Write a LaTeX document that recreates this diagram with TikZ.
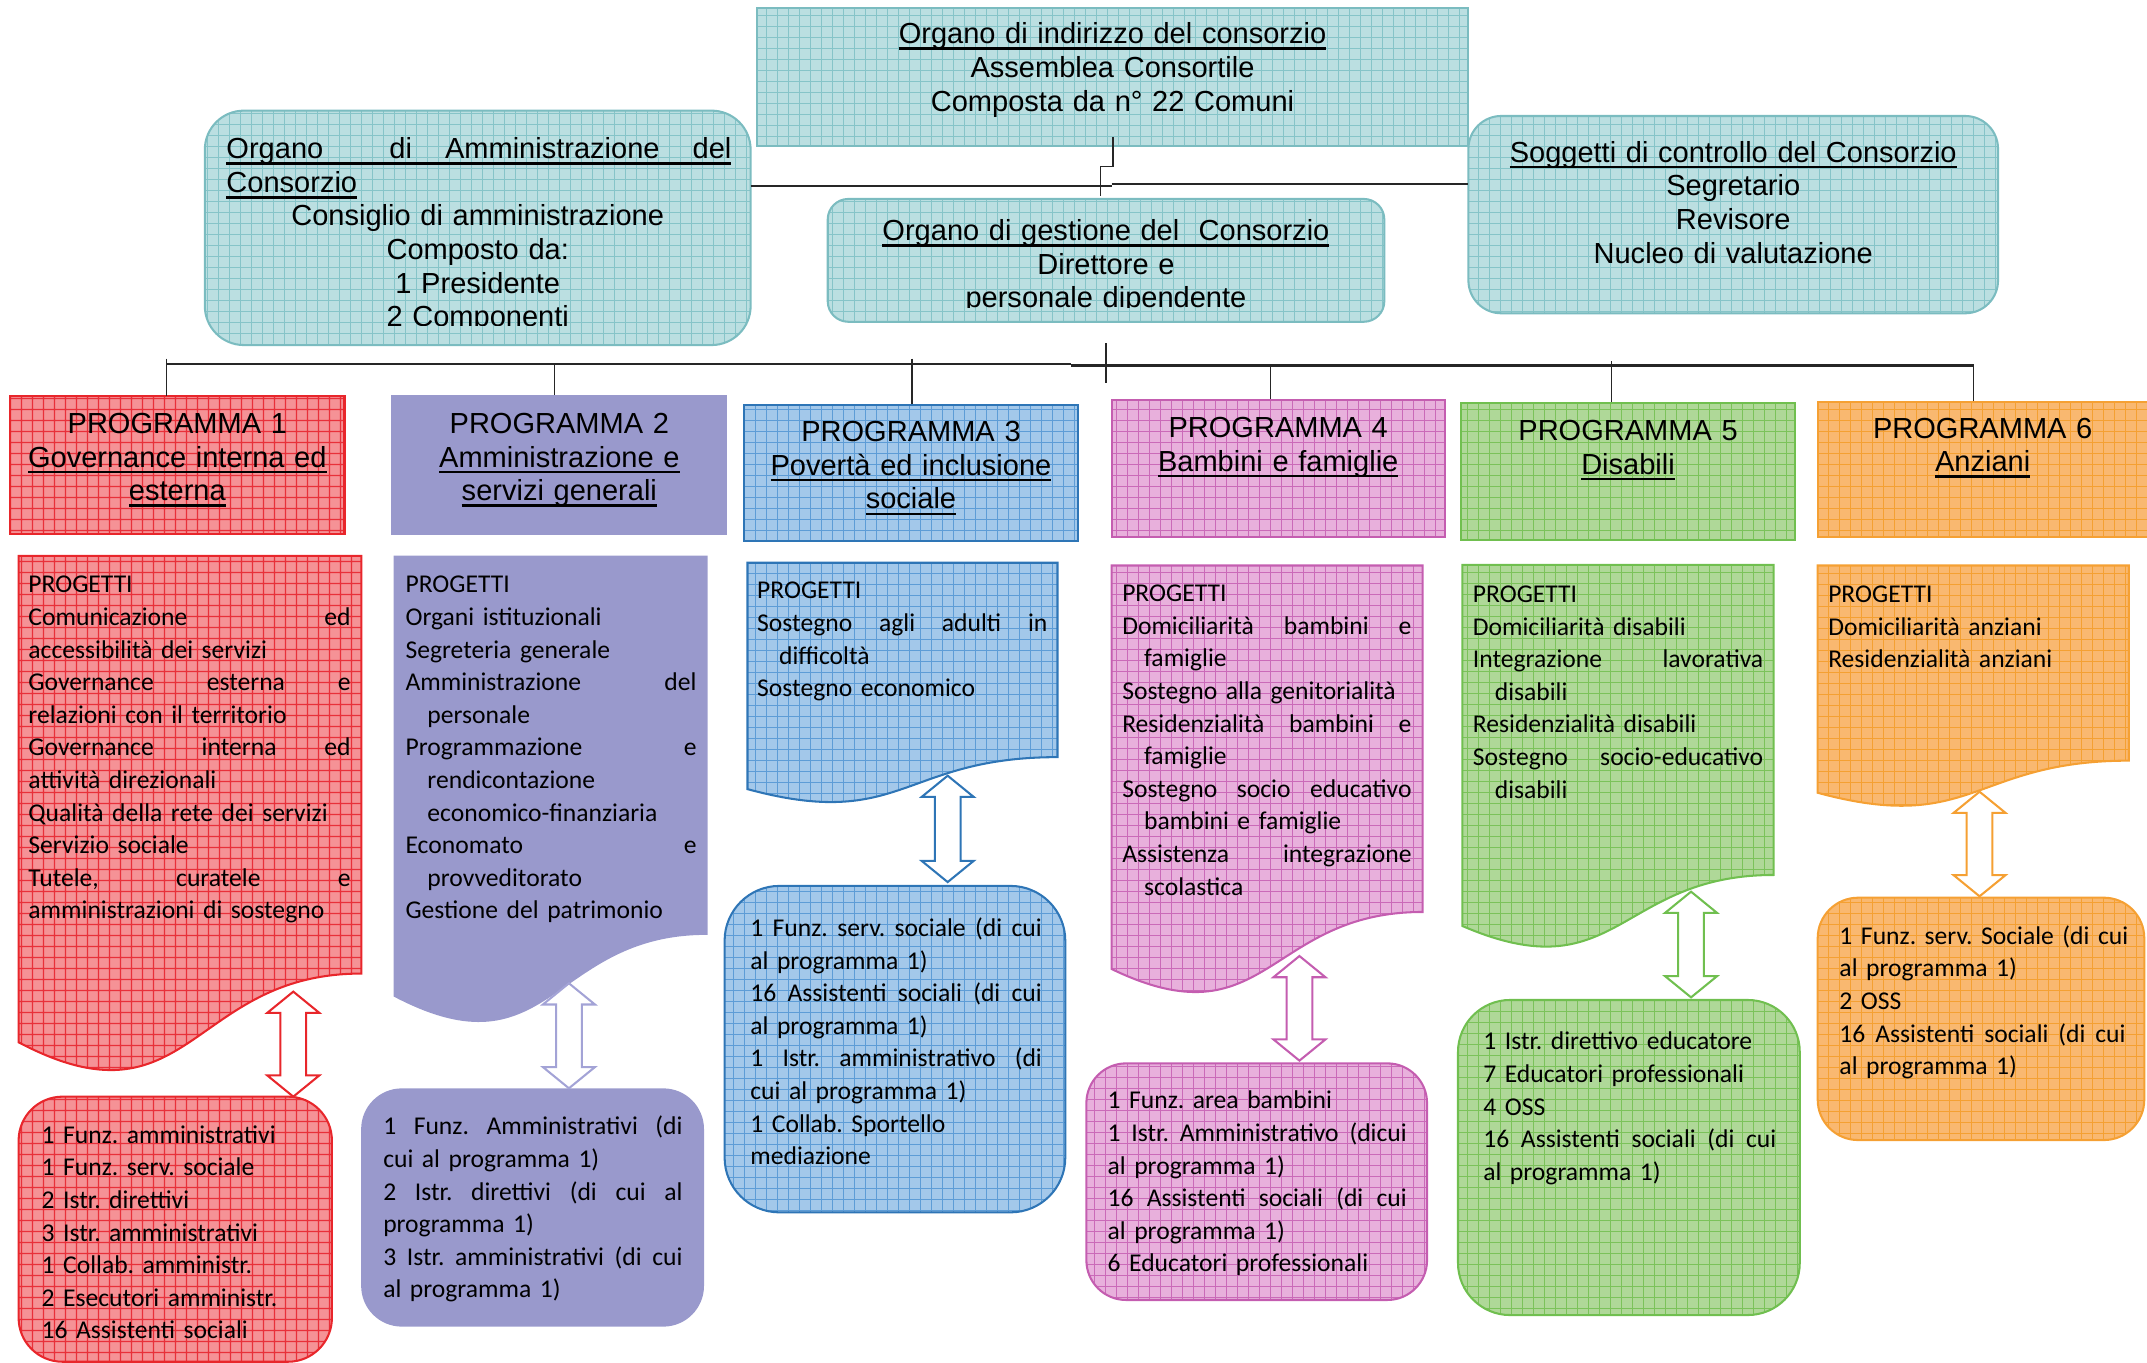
\documentclass[tikz,border=0pt]{standalone}
\usepackage{fontspec}
\newfontfamily\arialfam{Liberation Sans}
\newfontfamily\calfam{Carlito}
\usetikzlibrary{patterns.meta,fit}
\frenchspacing
\definecolor{tealF}{HTML}{BBDFE1}\definecolor{tealG}{HTML}{86C4C8}\definecolor{tealD}{HTML}{7BBCC0}
\definecolor{redF}{HTML}{F59296}\definecolor{redG}{HTML}{E8303A}\definecolor{redD}{HTML}{E8262B}
\definecolor{purF}{HTML}{9999CC}\definecolor{purA}{HTML}{A3A3D6}
\definecolor{blueF}{HTML}{A3C8EA}\definecolor{blueG}{HTML}{5D9CD6}\definecolor{blueD}{HTML}{2E75B6}
\definecolor{pinkF}{HTML}{E8B0DC}\definecolor{pinkG}{HTML}{CA6AB8}\definecolor{pinkD}{HTML}{C45DB0}
\definecolor{greenF}{HTML}{AFD898}\definecolor{greenG}{HTML}{7BC25A}\definecolor{greenD}{HTML}{70BF4F}
\definecolor{orF}{HTML}{F9B870}\definecolor{orG}{HTML}{F4A032}\definecolor{orD}{HTML}{F5A033}
\definecolor{connC}{HTML}{262626}
\newcommand\arialf{\arialfam\fontsize{10.6pt}{12.3pt}\selectfont}
\newcommand\calf{\calfam\frenchspacing\fontsize{9.35pt}{11.9pt}\selectfont}
\newcommand\ul[1]{\leavevmode\setbox0=\hbox{#1}\rlap{\rule[-2.2pt]{\wd0}{0.9pt}}\box0}
\newcommand\jl[1]{\leavevmode\hbox to\linewidth{#1}}
\newcommand\ind{\hspace*{8pt}}
\newcommand\docshape[6]{% name, style, L, T, W, H
  \path[#2] (#3,#4) -- ({#3+#5},#4) -- ({#3+#5},{#4+0.802*#6})
    .. controls ({#3+0.5*#5},{#4+0.802*#6}) and ({#3+0.5*#5},{#4+1.1075*#6}) .. (#3,{#4+0.934*#6}) -- cycle;
  \coordinate (#1) at ({#3+0.5*#5},#4);}
\newcommand\dblarrow[5]{% name, style, x, ytop, ybot
  \coordinate (#1a) at (#3,#4); \coordinate (#1b) at (#3,#5);
  \draw[#2] (#1a) -- ++(19,15.5) -- ++(-9.6,0) -- ({#3+9.4},{#5-15.5}) -- ++(9.6,0) -- (#1b)
    -- ++(-19,-15.5) -- ++(9.6,0) -- ({#3-9.4},{#4+15.5}) -- ++(-9.6,0) -- cycle;}
\begin{document}
\begin{tikzpicture}[x=0.5pt,y=-0.5pt,
  gridfill/.style n args={3}{preaction={fill=#1}, pattern={Hatch[angle=0,distance=4pt,line width=#3]}, pattern color=#2},
  boxbase/.style={inner sep=0pt, line width=0.75pt},
  tealbox/.style={boxbase, gridfill={tealF}{tealG}{0.3pt}, draw=tealD},
  redbox/.style={boxbase, gridfill={redF}{redG}{0.45pt}, draw=redD},
  purbox/.style={boxbase, fill=purF, draw=purF},
  bluebox/.style={boxbase, gridfill={blueF}{blueG}{0.3pt}, draw=blueD},
  pinkbox/.style={boxbase, gridfill={pinkF}{pinkG}{0.3pt}, draw=pinkD},
  greenbox/.style={boxbase, gridfill={greenF}{greenG}{0.3pt}, draw=greenD},
  orbox/.style={boxbase, gridfill={orF}{orG}{0.3pt}, draw=orD},
  ar/.style={font=\arialf, inner sep=0pt, align=center, anchor=base, text=black},
  arl/.style={font=\arialf, inner sep=0pt, align=left, anchor=base west, text=black},
  cal/.style={font=\calf, inner sep=0pt, align=left, anchor=base west, text=black},
  conn/.style={draw=connC, line width=0.8pt},
  tick/.style={draw=connC, line width=0.45pt},
  arr/.style={draw=#1, fill=white, line width=0.75pt, line join=miter}
]
\useasboundingbox (0,0) rectangle (1568,995.4);

% ---------- top boxes
\node[fit={(553,5.5)(1072.4,106.6)}, tealbox] (ind) {};
\node[fit={(149.6,80.8)(548.2,252)}, tealbox, rounded corners=14.25pt] (amm) {};
\node[fit={(604.5,145.3)(1011,235)}, tealbox, rounded corners=7.5pt] (ges) {};
\node[fit={(1072.4,84.7)(1459.2,228.8)}, tealbox, rounded corners=12pt] (sog) {};

\node[ar, text width=250pt] (indt) at (812.5,32) {\ul{Organo di indirizzo del consorzio}\\Assemblea Consortile\\Composta da n° 22 Comuni};
\begin{scope}
  \clip (140,70) rectangle (560,237.6);
  \node[arl, text width=184.4pt] (ammt1) at (165,116) {\leavevmode\rlap{\rule[-2.2pt]{\linewidth}{0.9pt}}\hbox to\linewidth{Organo\hfill\hfill di\hfill Amministrazione\hfill del}\\\ul{Consorzio}};
  \node[ar, text width=190pt] (ammt2) at (348.9,165) {Consiglio di amministrazione\\Composto da:\\1 Presidente\\2 Componenti};
\end{scope}
\begin{scope}
  \clip (600,140) rectangle (1015,224.5);
  \node[ar, text width=200pt] (gest) at (807.7,175.7) {\ul{Organo di gestione del\ \ Consorzio}\\Direttore e\\personale dipendente};
\end{scope}
\node[ar, text width=190pt] (sogt) at (1265.8,118.5) {\ul{Soggetti di controllo del Consorzio}\\Segretario\\Revisore\\Nucleo di valutazione};

% ---------- top connectors
\coordinate (c1) at (812.8,100);
\coordinate (c2) at (812.8,121.7);
\coordinate (c3) at (803.6,121.7);
\coordinate (c4) at (803.6,143.1);
\draw[tick, line width=0.6pt] (c1) -- (c2) -- (c3) -- (c4);
\coordinate (h1) at (548.2,136);
\coordinate (h2) at (811.8,136);
\coordinate (h3) at (811.8,134.6);
\coordinate (h4) at (1072.4,134.6);
\draw[conn] (h1) -- (h2);
\draw[conn] (h3) -- (h4);

% ---------- programme boxes
\node[fit={(7.5,289.5)(251.6,389.9)}, redbox] (p1) {};
\node[fit={(286.5,289.5)(530.4,389.9)}, purbox] (p2) {};
\node[fit={(543.6,295.8)(787,395.1)}, bluebox] (p3) {};
\node[fit={(811.8,291.8)(1055,392)}, pinkbox] (p4) {};
\node[fit={(1067.1,294.5)(1311.1,394.3)}, greenbox] (p5) {};
\node[fit={(1327.5,293.4)(1572,392.5)}, orbox] (p6) {};

\node[ar, text width=118pt] (p1t) at (129.5,316.5) {PROGRAMMA 1\\\ul{Governance interna ed}\\\ul{esterna}};
\node[ar, text width=118pt] (p2t) at (408.5,316.5) {PROGRAMMA 2\\\ul{Amministrazione e}\\\ul{servizi generali}};
\node[ar, text width=118pt] (p3t) at (665.3,322.5) {PROGRAMMA 3\\\ul{Povertà ed inclusione}\\\ul{sociale}};
\node[ar, text width=118pt] (p4t) at (933.5,319.7) {PROGRAMMA 4\\\ul{Bambini e famiglie}};
\node[ar, text width=118pt] (p5t) at (1189,321.7) {PROGRAMMA 5\\\ul{Disabili}};
\node[ar, text width=118pt] (p6t) at (1448,320) {PROGRAMMA 6\\\ul{Anziani}};

% ---------- bus
\coordinate (b0) at (121.5,266);
\coordinate (bm) at (782,266);
\coordinate (bm2) at (782,267);
\coordinate (b1) at (1441.3,267);
\draw[conn] (b0) -- (bm);
\draw[conn] (bm2) -- (b1);
\coordinate (g1) at (807.7,250.7);
\coordinate (g2) at (807.7,279.5);
\draw[tick] (g1) -- (g2);
\draw[tick] (121.5,262) -- (121.5,0 |- p1.north);
\draw[tick] (405,266) -- (405,0 |- p2.north);
\draw[tick] (666,262) -- (666,0 |- p3.north);
\draw[tick] (928,266) -- (928,0 |- p4.north);
\draw[tick] (1177,264) -- (1177,0 |- p5.north);
\draw[tick] (1441.3,266) -- (1441.3,0 |- p6.north);

% ---------- project documents
\docshape{d1}{redbox}{13.6}{406}{250.3}{380.3}
\docshape{d2}{purbox}{288.3}{406.6}{227.7}{343.4}
\docshape{d3}{bluebox}{545.9}{411}{226.4}{177}
\docshape{d4}{pinkbox}{811.8}{413}{227.1}{315.5}
\docshape{d5}{greenbox}{1068}{412.6}{227.3}{282.3}
\docshape{d6}{orbox}{1327.5}{413}{227.2}{177.7}

\node[cal, text width=117.65pt] (d1t) at (20.4,433) {PROGETTI\\
\jl{Comunicazione \hfill ed}\\
accessibilità dei servizi\\
\jl{Governance \hfill esterna \hfill e}\\
relazioni con il territorio\\
\jl{Governance \hfill interna \hfill ed}\\
attività direzionali\\
Qualità della rete dei servizi\\
Servizio sociale\\
\jl{Tutele, \hfill curatele \hfill e}\\
amministrazioni di sostegno};

\node[cal, text width=106.25pt] (d2t) at (295.8,433) {PROGETTI\\
Organi istituzionali\\
Segreteria generale\\
\jl{Amministrazione \hfill del}\\
\ind personale\\
\jl{Programmazione \hfill e}\\
\ind rendicontazione\\
\ind economico-finanziaria\\
\jl{Economato \hfill e}\\
\ind provveditorato\\
Gestione del patrimonio};

\node[cal, text width=106pt] (d3t) at (552.6,437.4) {PROGETTI\\
\jl{Sostegno \hfill agli \hfill adulti \hfill in}\\
\ind difficoltà\\
Sostegno economico};

\node[cal, text width=105.65pt] (d4t) at (819.2,439.5) {PROGETTI\\
\jl{Domiciliarità \hfill bambini \hfill e}\\
\ind famiglie\\
Sostegno alla genitorialità\\
\jl{Residenzialità \hfill bambini \hfill e}\\
\ind famiglie\\
\jl{Sostegno \hfill socio \hfill educativo}\\
\ind bambini e famiglie\\
\jl{Assistenza \hfill integrazione}\\
\ind scolastica};

\node[cal, text width=106pt] (d5t) at (1075.3,440) {PROGETTI\\
Domiciliarità disabili\\
\jl{Integrazione \hfill lavorativa}\\
\ind disabili\\
Residenzialità disabili\\
\jl{Sostegno \hfill socio-educativo}\\
\ind disabili};

\node[cal, text width=106pt] (d6t) at (1334.8,440) {PROGETTI\\
Domiciliarità anziani\\
Residenzialità anziani};

% ---------- staff boxes
\node[fit={(13.6,800.9)(242.4,994.5)}, redbox, rounded corners=16pt] (s1) {};
\node[fit={(264.5,795.6)(513.4,968.1)}, purbox, rounded corners=14.5pt] (s2) {};
\node[fit={(529.2,647)(778,885.4)}, bluebox, rounded corners=20pt] (s3) {};
\node[fit={(793.4,776.6)(1042.2,949.4)}, pinkbox, rounded corners=14.5pt] (s4) {};
\node[fit={(1064.8,730.3)(1314.4,960.4)}, greenbox, rounded corners=19pt] (s5) {};
\node[fit={(1327.5,655.6)(1566,832.6)}, orbox, rounded corners=14.75pt] (s6) {};

\node[cal, text width=105pt] (s1t) at (30,835) {1 Funz. amministrativi\\
1 Funz. serv. sociale\\
2 Istr. direttivi\\
3 Istr. amministrativi\\
1 Collab. amministr.\\
2 Esecutori amministr.\\
16 Assistenti sociali};

\node[cal, text width=109.3pt] (s2t) at (279.5,828.8) {\jl{1 \hfill Funz. \hfill Amministrativi \hfill (di}\\
cui al programma 1)\\
\jl{2 \hfill Istr. \hfill direttivi \hfill (di \hfill cui \hfill al}\\
programma 1)\\
\jl{3 \hfill Istr. \hfill amministrativi \hfill (di \hfill cui}\\
al programma 1)};

\node[cal, text width=106.45pt] (s3t) at (547.6,684) {\jl{1 \hfill Funz. \hfill serv. \hfill sociale \hfill (di \hfill cui}\\
al programma 1)\\
\jl{16 \hfill Assistenti \hfill sociali \hfill (di \hfill cui}\\
al programma 1)\\
\jl{1 \hfill Istr. \hfill amministrativo \hfill (di}\\
cui al programma 1)\\
1 Collab. Sportello\\
mediazione};

\node[cal, text width=109.25pt] (s4t) at (808.5,809.9) {1 Funz. area bambini\\
\jl{1 \hfill Istr. \hfill Amministrativo \hfill (dicui}\\
al programma 1)\\
\jl{16 \hfill Assistenti \hfill sociali \hfill (di \hfill cui}\\
al programma 1)\\
6 Educatori professionali};

\node[cal, text width=107pt] (s5t) at (1082.9,766.8) {1 Istr. direttivo educatore\\
7 Educatori professionali\\
4 OSS\\
\jl{16 \hfill Assistenti \hfill sociali \hfill (di \hfill cui}\\
al programma 1)};

\node[cal, text width=104.5pt] (s6t) at (1343,689.6) {\jl{1 \hfill Funz. \hfill serv. \hfill Sociale \hfill (di \hfill cui}\\
al programma 1)\\
2 OSS\\
\jl{16 \hfill Assistenti \hfill sociali \hfill (di \hfill cui}\\
al programma 1)};

% ---------- double arrows
\dblarrow{a1}{arr=redD}{214.2}{724.2}{800.9}
\dblarrow{a2}{arr=purA}{415.5}{718.1}{794.8}
\dblarrow{a3}{arr=blueD}{692.1}{566.5}{644.2}
\dblarrow{a4}{arr=pinkD}{949}{698.2}{774.6}
\dblarrow{a5}{arr=greenD}{1235}{651.2}{728.4}
\dblarrow{a6}{arr=orD}{1445.7}{578.2}{654.6}
\end{tikzpicture}
\end{document}
